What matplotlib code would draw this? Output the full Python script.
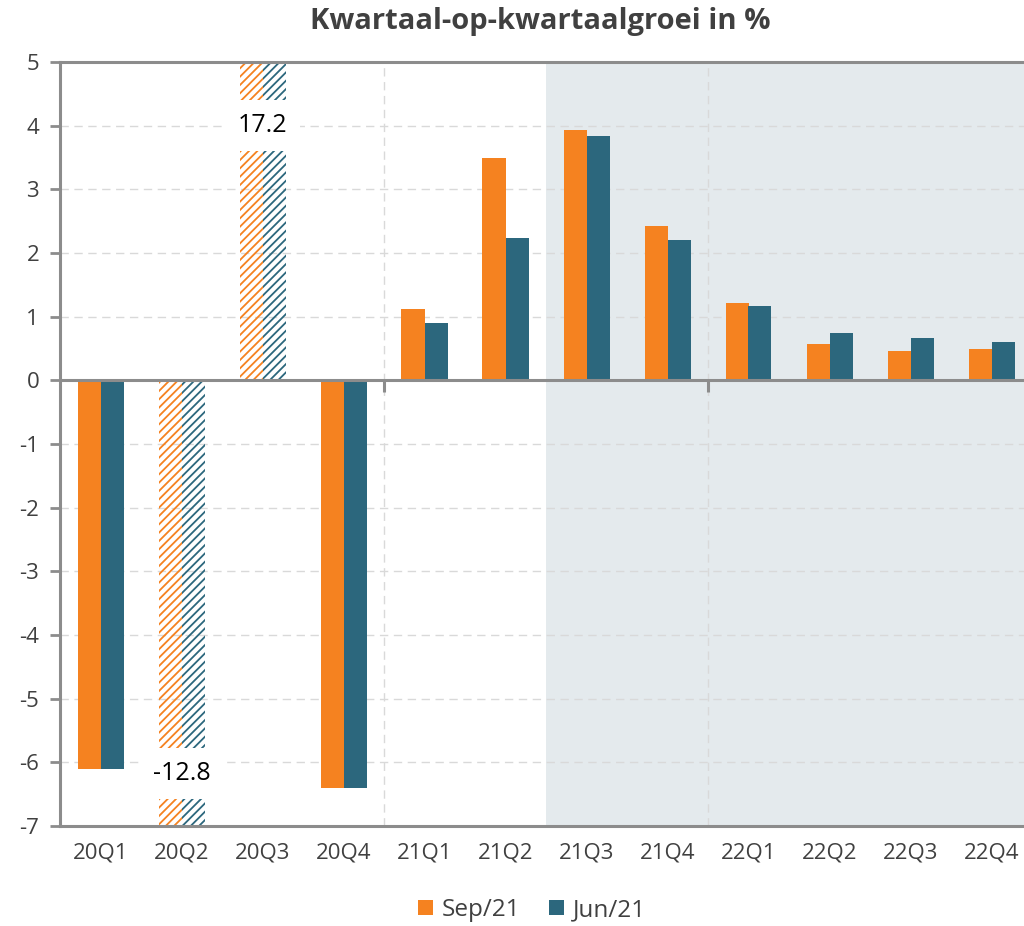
import matplotlib
matplotlib.use("Agg")
import matplotlib.pyplot as plt
import numpy as np

categories = ["20Q1", "20Q2", "20Q3", "20Q4", "21Q1", "21Q2", "21Q3", "21Q4",
              "22Q1", "22Q2", "22Q3", "22Q4"]
sep21 = [-6.1, -12.8, 17.2, -6.4, 1.12, 3.5, 3.93, 2.43, 1.22, 0.57, 0.46, 0.5]
jun21 = [-6.1, -12.8, 17.2, -6.4, 0.9, 2.23, 3.83, 2.2, 1.16, 0.74, 0.66, 0.6]
series_names = ["Sep/21", "Jun/21"]
outliers = [1, 2]  # indices of off-scale quarters shown hatched with labels
yticks = list(range(-7, 6))

ORANGE = "#F58220"
TEAL = "#2C677D"
SHADE = "#E4EAED"
SPINE = "#8C8C8C"
GRID = "#D9D9D9"
TXT = "#404040"

plt.rcParams["font.family"] = ["Open Sans", "DejaVu Sans"]
plt.rcParams["hatch.linewidth"] = 1.3

fig = plt.figure(figsize=(10.24, 9.26), dpi=100)
ax = fig.add_axes([60 / 1024, 100 / 926, 964 / 1024, 764 / 926])

ax.set_ylim(-7, 5)
ax.set_xlim(-0.5, -0.5 + 964 / 81)

x = np.arange(len(categories))
w = 23 / 81

# shaded forecast region
ax.axvspan(5.5, 12, color=SHADE, zorder=0, lw=0)

# grid
for yv in yticks:
    if yv != 0:
        ax.axhline(yv, color=GRID, lw=1, ls=(0, (6, 4)), zorder=1)
for xv in [3.5, 7.5]:
    ax.axvline(xv, color=GRID, lw=1, ls=(0, (6, 4)), zorder=1)

for i in range(len(categories)):
    for s, (vals, col) in enumerate([(sep21, ORANGE), (jun21, TEAL)]):
        xpos = x[i] - w / 2 if s == 0 else x[i] + w / 2
        if i in outliers:
            ax.bar(xpos, vals[i], width=w, facecolor="none", edgecolor=col,
                   hatch="////", lw=0, zorder=2)
        else:
            ax.bar(xpos, vals[i], width=w, color=col, lw=0, zorder=2,
                   label=series_names[s] if i == 0 else None)

# labels for the outliers
ax.text(x[2], 4.0, f"{sep21[2]:.1f}", ha="center", va="center", fontsize=18,
        color="black", zorder=4,
        bbox=dict(boxstyle="square,pad=0.52", fc="white", ec="none"))
ax.text(x[1], -6.18, f"{sep21[1]:.1f}", ha="center", va="center", fontsize=18,
        color="black", zorder=4,
        bbox=dict(boxstyle="square,pad=0.52", fc="white", ec="none"))

# zero line with small tick marks
ax.axhline(0, color=SPINE, lw=2.2, zorder=3)
ax.vlines([3.5, 7.5], -0.18, 0, color=SPINE, lw=2.2, zorder=3)

for side in ["left", "top", "bottom"]:
    ax.spines[side].set_color(SPINE)
    ax.spines[side].set_linewidth(2.2)
    ax.spines[side].set_zorder(5)
ax.spines["right"].set_visible(False)

ax.set_yticks(yticks)
ax.set_yticklabels([str(v) for v in yticks])
ax.tick_params(axis="y", length=7, width=2, color=SPINE, labelsize=16,
               labelcolor=TXT, pad=8)
ax.set_xticks(x)
ax.set_xticklabels(categories)
ax.tick_params(axis="x", length=0, labelsize=16, labelcolor=TXT, pad=12)

fig.text(540 / 1024, 1 - 22 / 926, "Kwartaal-op-kwartaalgroei in %",
         ha="center", va="center", fontsize=21, fontweight="bold", color=TXT)

handles, labels = ax.get_legend_handles_labels()
fig.legend(handles, labels, loc="center", bbox_to_anchor=(532 / 1024, 1 - 910 / 926),
           ncol=2, frameon=False, fontsize=17.5, labelcolor=TXT,
           handlelength=0.62, handleheight=0.62, handletextpad=0.35, columnspacing=1.2)

fig.savefig("out.png", dpi=100)
